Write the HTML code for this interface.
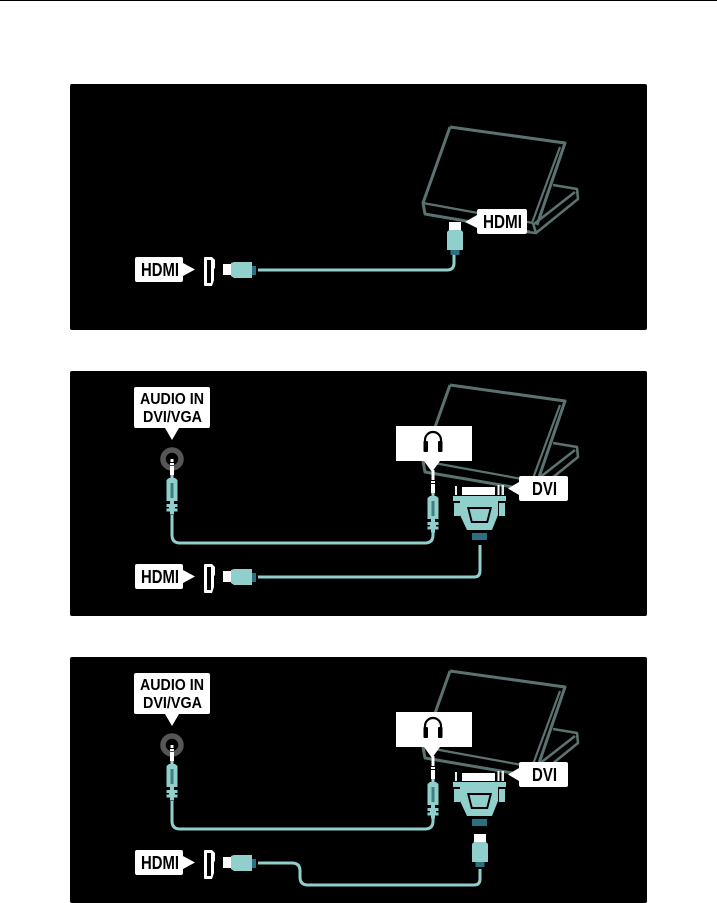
<!DOCTYPE html>
<html>
<head>
<meta charset="utf-8">
<style>
html,body{margin:0;padding:0;background:#fff;width:717px;height:903px;overflow:hidden}
svg{display:block}
text{font-family:"Liberation Sans",sans-serif;font-weight:bold;fill:#000}
</style>
</head>
<body>
<svg xmlns="http://www.w3.org/2000/svg" width="717" height="903" viewBox="0 0 717 903">
<defs>
<g id="laptop" fill="none" stroke="#5a7371" stroke-linejoin="round">
  <path d="M450 127 L565 143 L537 225 M450 127 L423 203 L425 214 L530 232" stroke-width="3"/>
  <path d="M423 203 L533 223 M560 147 L532 223" stroke-width="2.200"/>
  <path d="M553 185 L577 189 L578 199 L536 233 L527 232 M534 224 L575 192 M533 223 L536 233" stroke-width="2.600"/>
</g>
<g id="hdmiRow">
  <path d="M137 0 H181 Q183 0 183 2 V6 L195 12.500 L183 19 V23 Q183 25 181 25 H137 Q135 25 135 23 V2 Q135 0 137 0Z" fill="#fff"/>
  <text x="141" y="19" font-size="18" textLength="38" lengthAdjust="spacingAndGlyphs">HDMI</text>
  <path d="M205 0 H212 L215 3 V11 L214 12 V23 L212 29 H205 Q204 29 204 28 V1 Q204 0 205 0Z" fill="#fff"/>
  <rect x="207" y="3" width="4" height="23" fill="#000"/>
  <rect x="223" y="7" width="8" height="11" fill="#fff"/>
  <path d="M231 6 L234 5 H252 V21 H234 L231 19Z" fill="#90cfcc"/>
  <rect x="252" y="9" width="4" height="9" fill="#2c6f80"/>
</g>
<g id="hdmiPlugUp">
  <rect x="-6" y="0" width="12" height="8" fill="#fff"/>
  <path d="M-8 10 L-6 8 H6 L8 10 V28 H-8Z" fill="#90cfcc"/>
  <rect x="-4.500" y="28" width="9" height="5" fill="#2c6f80"/>
</g>
<g id="jack">
  <rect x="-1.500" y="0" width="3" height="3" fill="#fff"/>
  <rect x="-2" y="4" width="4" height="2" fill="#fff"/>
  <rect x="-2" y="7" width="4" height="9" fill="#fff"/>
  <rect x="-1.500" y="16" width="3" height="3" fill="#9fd4d1"/>
  <path d="M-3 19 H3 L5.500 21 V42 H-5.500 V21Z" fill="#90cfcc"/>
  <rect x="-1.500" y="24" width="3" height="15" fill="#3f7f80"/>
  <rect x="-2" y="42" width="4" height="3" fill="#90cfcc"/>
  <rect x="-5.500" y="45" width="11" height="3" fill="#90cfcc"/>
  <rect x="-3" y="48" width="6" height="1.500" fill="#90cfcc"/>
  <rect x="-5.500" y="49.500" width="11" height="3" fill="#90cfcc"/>
  <rect x="-2" y="52.500" width="4" height="3" fill="#90cfcc"/>
</g>
<g id="audioLabel">
  <path d="M136 387 H208 Q210 387 210 389 V426 Q210 428 208 428 H179 L172 440 L165 428 H136 Q134 428 134 426 V389 Q134 387 136 387Z" fill="#fff"/>
  <text x="140" y="404" font-size="16" textLength="64" lengthAdjust="spacingAndGlyphs">AUDIO IN</text>
  <text x="143" y="422" font-size="16" textLength="59" lengthAdjust="spacingAndGlyphs">DVI/VGA</text>
  <circle cx="172" cy="459" r="9" fill="#000" stroke="#565656" stroke-width="5.500"/>
  <use href="#jack" x="172" y="459"/>
</g>
<g id="phoneLabel">
  <rect x="431.500" y="470" width="3" height="8" fill="#fff"/>
  <use href="#jack" x="433" y="477"/>
  <path d="M396 426 H472 V461 H440 L432 472 L424 461 H396Z" fill="#fff"/>
  <path d="M425 444 V440 A8 8 0 0 1 441 440 V444" fill="none" stroke="#000" stroke-width="2.200"/>
  <rect x="423.500" y="441" width="4.500" height="11" rx="1" fill="#000"/>
  <rect x="438" y="441" width="4.500" height="11" rx="1" fill="#000"/>
</g>
<g id="dvi">
  <rect x="455" y="486" width="2" height="9" fill="#e6f2f1"/>
  <rect x="462" y="487" width="33" height="8" fill="#fff"/>
  <rect x="497.500" y="485" width="2" height="10" fill="#fff"/>
  <rect x="501.500" y="485" width="2.500" height="10" fill="#d8ecea"/>
  <rect x="453" y="496" width="53" height="5" fill="#90cfcc"/>
  <rect x="454" y="503" width="6" height="13" fill="#90cfcc"/>
  <rect x="499" y="503" width="6" height="13" fill="#90cfcc"/>
  <path d="M460 501 H498 V515 L492 530 H467 L460 515Z" fill="#90cfcc"/>
  <path d="M467 507 H492 L488 523 H471Z" fill="#000"/>
  <path d="M469.500 509 H489.500 L486.500 521 H472.500Z" fill="#90cfcc"/>
  <rect x="472" y="533" width="15" height="7" fill="#2c6f80"/>
  <path d="M521 476 H566 Q568 476 568 478 V499 Q568 501 566 501 H521 Q519 501 519 499 V495 L508 488.500 L519 482 V478 Q519 476 521 476Z" fill="#fff"/>
  <text x="532" y="495" font-size="18" textLength="25" lengthAdjust="spacingAndGlyphs">DVI</text>
</g>
</defs>

<rect x="0" y="0" width="717" height="1" fill="#000"/>
<rect x="70" y="84" width="577" height="246" rx="2" fill="#000"/>
<rect x="70" y="371" width="577" height="245" rx="2" fill="#000"/>
<rect x="70" y="657" width="577" height="246" rx="2" fill="#000"/>

<!-- Panel 1 -->
<use href="#laptop"/>
<path d="M479 209 H525 Q527 209 527 211 V232 Q527 234 525 234 H479 Q477 234 477 232 V228 L465 222 L477 215 V211 Q477 209 479 209Z" fill="#fff"/>
<text x="483" y="228" font-size="18" textLength="39" lengthAdjust="spacingAndGlyphs">HDMI</text>
<use href="#hdmiPlugUp" x="455" y="222"/>
<path d="M258 270 H447 Q454 270 454 263 V255" fill="none" stroke="#90cfcc" stroke-width="3"/>
<use href="#hdmiRow" y="257"/>

<!-- Panel 2 -->
<use href="#laptop" y="258"/>
<path d="M172 515 V535 Q172 543 180 543 H425 Q433 543 433 535 V530" fill="none" stroke="#90cfcc" stroke-width="3"/>
<path d="M258 577 H474 Q480 577 480 571 V545" fill="none" stroke="#90cfcc" stroke-width="3"/>
<use href="#audioLabel"/>
<use href="#phoneLabel"/>
<use href="#dvi"/>
<use href="#hdmiRow" y="564"/>

<!-- Panel 3 -->
<g transform="translate(0,286)">
  <use href="#laptop" y="258"/>
  <path d="M172 515 V535 Q172 543 180 543 H425 Q433 543 433 535 V530" fill="none" stroke="#90cfcc" stroke-width="3"/>
  <use href="#audioLabel"/>
  <use href="#phoneLabel"/>
  <use href="#dvi"/>
  <use href="#hdmiRow" y="564"/>
</g>
<path d="M258 863 H292 Q300 863 300 871 V877 Q300 885 308 885 H474 Q480 885 480 879 V869" fill="none" stroke="#90cfcc" stroke-width="3"/>
<use href="#hdmiPlugUp" x="480" y="834"/>
</svg>
</body>
</html>
